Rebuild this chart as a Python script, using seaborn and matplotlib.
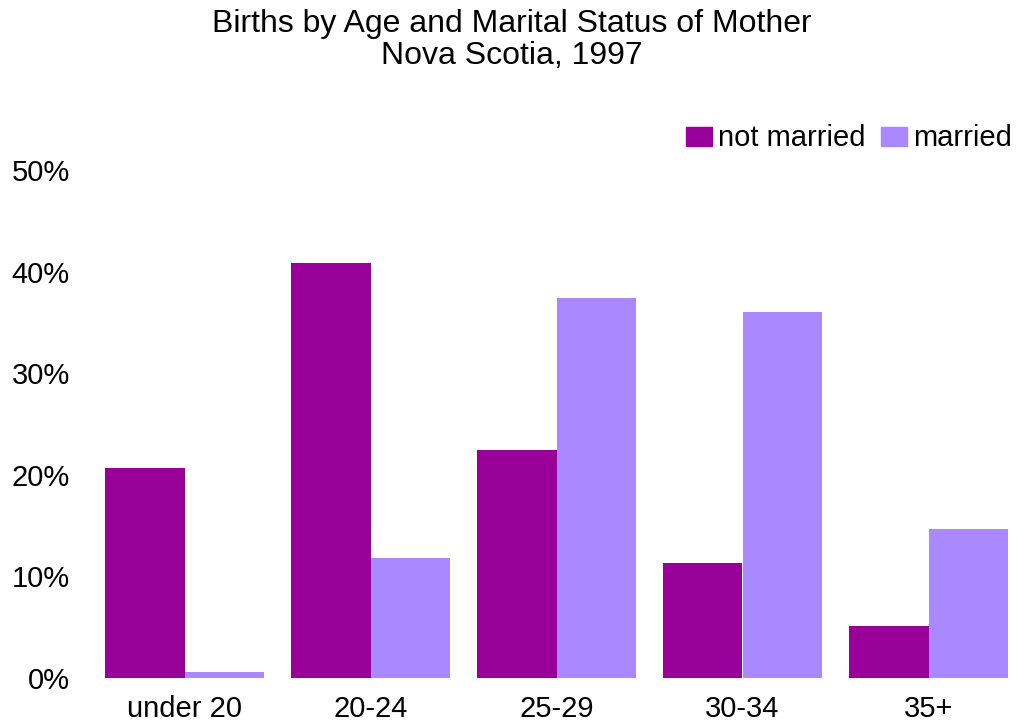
import pandas as pd
import matplotlib
matplotlib.use("Agg")
import matplotlib.pyplot as plt
import seaborn as sns

ages = ["under 20", "20-24", "25-29", "30-34", "35+"]
not_married = [20.7, 40.8, 22.4, 11.3, 5.1]
married = [0.6, 11.8, 37.4, 36.0, 14.7]
statuses = ["not married", "married"]
ytick_vals = [0, 10, 20, 30, 40, 50]

df = pd.DataFrame({
    "age": ages * 2,
    "pct": not_married + married,
    "status": ["not married"] * len(ages) + ["married"] * len(ages),
})

sns.set_style("white")
plt.rcParams["font.family"] = ["Liberation Sans", "DejaVu Sans"]
plt.rcParams["text.color"] = "black"
plt.rcParams["xtick.color"] = "black"
plt.rcParams["ytick.color"] = "black"

fig = plt.figure(figsize=(10.18, 7.23), dpi=100)
ax = fig.add_axes([91.5 / 1018, 1 - 678 / 723, 930 / 1018, 508 / 723])

sns.barplot(data=df, x="age", y="pct", hue="status", hue_order=statuses,
            order=ages, palette=["#990099", "#AA88FF"], saturation=1,
            width=0.86, linewidth=0, ax=ax, legend=False)

ax.set_xlim(-0.5, 4.5)
ax.set_ylim(0, 50)
ax.set_yticks(ytick_vals)
ax.set_yticklabels([f"{v}%" for v in ytick_vals])
ax.tick_params(axis="y", length=0, pad=15.5, labelsize=21)
ax.tick_params(axis="x", length=0, pad=12.5, labelsize=21)
ax.set_xlabel("")
ax.set_ylabel("")
sns.despine(ax=ax, left=True, bottom=True)

handles = [plt.Rectangle((0, 0), 1, 1, color=c) for c in ["#990099", "#AA88FF"]]
fig.legend(handles, statuses, loc="upper right", bbox_to_anchor=(1.0, 0.836),
           ncol=2, frameon=False, fontsize=21, handlelength=0.9, handleheight=0.62,
           handletextpad=0.2, columnspacing=0.55, borderaxespad=0, borderpad=0.2)

fig.suptitle("Births by Age and Marital Status of Mother\nNova Scotia, 1997",
             x=512 / 1018, y=0.988, va="top", fontsize=23, linespacing=1.1)

fig.savefig("out.png", dpi=100)
